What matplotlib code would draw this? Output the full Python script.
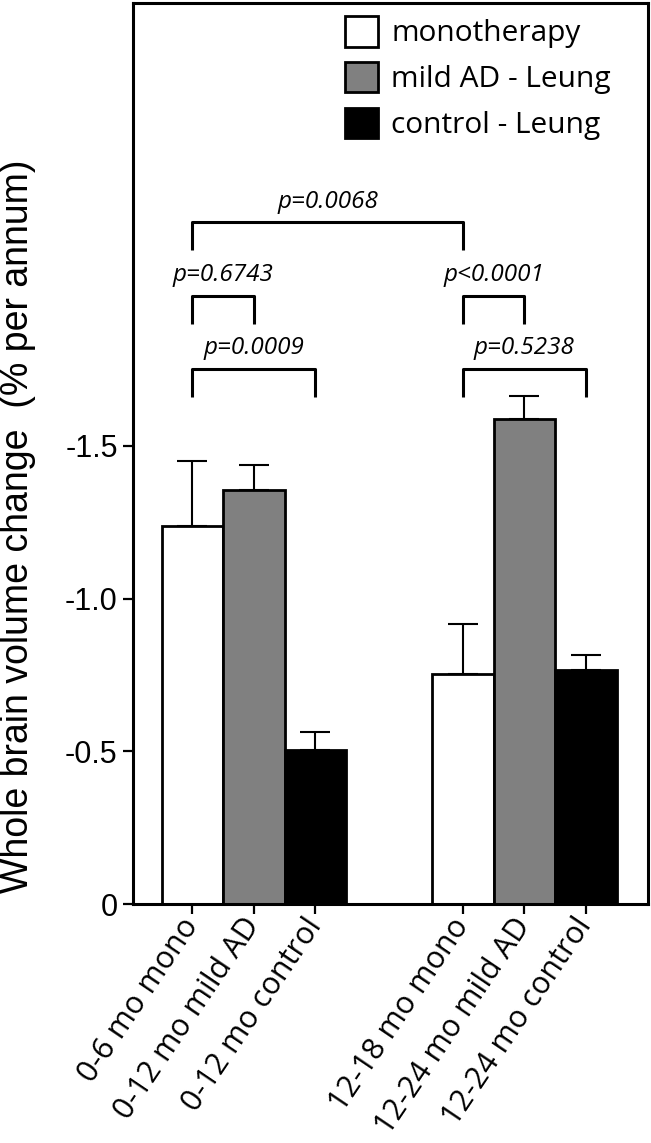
import matplotlib
matplotlib.use("Agg")
import matplotlib.pyplot as plt
from matplotlib.patches import Patch
import numpy as np

# data
groups = ["0-6 mo mono", "0-12 mo mild AD", "0-12 mo control",
          "12-18 mo mono", "12-24 mo mild AD", "12-24 mo control"]
change = [-1.237, -1.354, -0.503, -0.753, -1.588, -0.765]
sem = [0.215, 0.084, 0.059, 0.165, 0.076, 0.051]
series = ["monotherapy", "mild AD - Leung", "control - Leung"]
fills = ["white", "#808080", "black"]
yticks = [0, -0.5, -1.0, -1.5]
ytick_labels = ["0", "-0.5", "-1.0", "-1.5"]

# (bar a, bar b, p text, bracket level)
comparisons = [(0, 3, "p=0.0068", -2.233),
               (0, 1, "p=0.6743", -1.991),
               (3, 4, "p<0.0001", -1.991),
               (0, 2, "p=0.0009", -1.752),
               (3, 5, "p=0.5238", -1.752)]

plt.rcParams['font.family'] = ['Liberation Sans', 'DejaVu Sans']

x = np.array([0, 1, 2, 4.4, 5.4, 6.4])

fig = plt.figure(figsize=(6.51, 11.43), dpi=100)
ax = fig.add_axes([133/651, 1 - 904/1143, 515/651, 901/1143])

ax.errorbar(x, change, yerr=[sem, np.zeros(len(sem))], fmt='none',
            ecolor='black', elinewidth=1.5, capsize=11, capthick=1.5, zorder=1)
ax.bar(x, change, width=1.0, color=fills * 2, edgecolor='black',
       linewidth=2, zorder=2)

# significance brackets
leg = 0.092
for a, b, txt, lvl in comparisons:
    ax.plot([x[a], x[a], x[b], x[b]], [lvl + leg, lvl, lvl, lvl + leg],
            color='black', lw=2.2, solid_capstyle='butt', zorder=3)
    ax.text((x[a] + x[b]) / 2, lvl - 0.067, txt, ha='center', va='center',
            fontsize=17.5, style='italic', family=['Open Sans', 'DejaVu Sans'])

ax.set_xlim(-0.967, 7.41)
ax.set_ylim(0, -2.95)
ax.set_yticks(yticks, ytick_labels, fontsize=22)
ax.set_xticks(x, groups, rotation=56, ha='right', va='center',
              rotation_mode='anchor', fontsize=22,
              family=['Open Sans', 'DejaVu Sans'])
ax.tick_params(axis='both', length=7, width=1.6, color='black')
ax.tick_params(axis='y', pad=4)
ax.tick_params(axis='x', pad=5)
for s in ax.spines.values():
    s.set_linewidth(2.2)

handles = [Patch(facecolor=c, edgecolor='black', linewidth=2) for c in fills]
fig.legend(handles, series, loc='upper left',
           bbox_to_anchor=(345/651, 1 - 16/1143), frameon=False,
           prop={'family': ['Open Sans', 'DejaVu Sans'], 'size': 21.5},
           handlelength=1.1, handleheight=1.2, handletextpad=0.45,
           labelspacing=0.45, borderpad=0, borderaxespad=0)

fig.text(18/651, 1 - 526/1143, "Whole brain volume change  (% per annum)",
         rotation=90, ha='center', va='center', fontsize=27)

fig.savefig("out.png", dpi=100)
